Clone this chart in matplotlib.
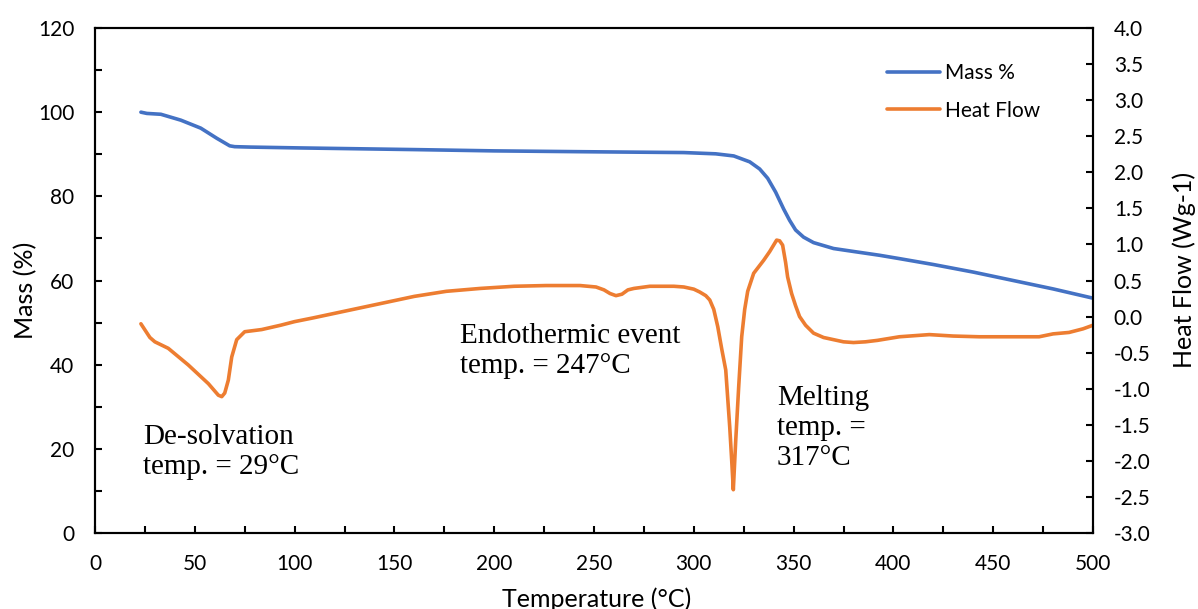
import matplotlib
matplotlib.use("Agg")
import matplotlib.pyplot as plt
from matplotlib.ticker import MultipleLocator, FormatStrFormatter

# Thermogravimetric (mass) curve: temperature (°C) vs mass (%)
mass_temp = [23, 26, 33, 43, 53, 61, 67.5, 70, 78, 103, 161, 200, 245, 295,
             311, 320, 328, 333, 337, 341, 345, 348, 351, 355, 360, 370, 380,
             393, 403, 420, 440, 460, 480, 500]
mass_pct = [100.0, 99.7, 99.5, 98.1, 96.2, 93.8, 92.0, 91.8, 91.7, 91.5, 91.1,
            90.8, 90.6, 90.4, 90.1, 89.6, 88.2, 86.5, 84.3, 81.0, 77.0, 74.3,
            72.0, 70.3, 69.0, 67.6, 66.9, 66.0, 65.2, 63.8, 62.0, 60.0, 58.0,
            55.8]

# DSC curve: temperature (°C) vs heat flow (W/g)
hf_temp = [23, 27.5, 30, 36.7, 46.7, 56.8, 61.8, 63.5, 65, 66.8, 68.5, 71, 75,
           83.5, 93, 100, 109, 126, 143, 160, 176, 193, 210, 226, 243, 251,
           255, 258, 261, 264, 267, 270, 278, 290, 295, 300, 303, 306, 308,
           310, 312, 314, 316, 318, 319, 319.8, 321, 322.5, 323, 324, 325.5,
           327, 330, 335, 338, 341.5, 343, 344.5, 346, 347, 349, 351, 353, 356,
           360, 365, 370, 375, 380, 386, 392, 403, 418, 430, 443, 460, 473,
           480, 488, 495, 500]
heat_flow = [-0.10, -0.29, -0.35, -0.44, -0.67, -0.93, -1.09, -1.11, -1.06,
             -0.88, -0.56, -0.32, -0.21, -0.18, -0.12, -0.07, -0.02, 0.08,
             0.18, 0.28, 0.35, 0.39, 0.42, 0.43, 0.43, 0.41, 0.37, 0.32, 0.29,
             0.31, 0.37, 0.39, 0.42, 0.42, 0.41, 0.38, 0.34, 0.29, 0.23, 0.10,
             -0.14, -0.45, -0.74, -1.53, -2.00, -2.40, -1.72, -0.97, -0.74,
             -0.28, 0.10, 0.35, 0.60, 0.78, 0.90, 1.06, 1.05, 0.99, 0.75, 0.55,
             0.32, 0.15, 0.00, -0.12, -0.23, -0.29, -0.32, -0.35, -0.36, -0.35,
             -0.33, -0.28, -0.25, -0.27, -0.28, -0.28, -0.28, -0.24, -0.22,
             -0.17, -0.12]

annotations = [
    (24, 25.9, "De-solvation\ntemp. = 29°C"),
    (183, 49.9, "Endothermic event\ntemp. = 247°C"),
    (341.7, 35.2, "Melting\ntemp. =\n317°C"),
]

plt.rcParams["font.family"] = ["Lato", "DejaVu Sans"]
plt.rcParams["axes.unicode_minus"] = False

BLUE = "#4472C4"
ORANGE = "#ED7D31"
TICK_FS = 15
TITLE_FS = 18
LEGEND_FS = 15

fig = plt.figure(figsize=(11.98, 6.09), dpi=100)
W, H = 1198, 609
left, right, top, bottom = 95, 1093, 28, 533
ax = fig.add_axes([left / W, 1 - bottom / H, (right - left) / W, (bottom - top) / H])
ax2 = ax.twinx()

l1, = ax.plot(mass_temp, mass_pct, color=BLUE, lw=2.6, solid_capstyle="round",
              solid_joinstyle="round", label="Mass %")
l2, = ax2.plot(hf_temp, heat_flow, color=ORANGE, lw=2.6, solid_capstyle="round",
               solid_joinstyle="round", label="Heat Flow")

ax.set_xlim(0, 500)
ax.set_ylim(0, 120)
ax2.set_ylim(-3, 4)

ax.xaxis.set_major_locator(MultipleLocator(50))
ax.xaxis.set_minor_locator(MultipleLocator(25))
ax.yaxis.set_major_locator(MultipleLocator(20))
ax.yaxis.set_minor_locator(MultipleLocator(10))
ax2.yaxis.set_major_locator(MultipleLocator(0.5))
ax2.yaxis.set_major_formatter(FormatStrFormatter("%.1f"))

for a in (ax, ax2):
    for s in a.spines.values():
        s.set_linewidth(1.5)
        s.set_color("black")
    a.tick_params(which="both", direction="in", length=5, width=1.5,
                  labelsize=TICK_FS, pad=15, colors="black")

ax.tick_params(axis="y", which="both", right=False)
ax.tick_params(axis="x", which="both", top=False)
ax2.tick_params(axis="y", which="both", left=False)

ax.set_xlabel("Temperature (°C)", fontsize=TITLE_FS)
ax.set_ylabel("Mass (%)", fontsize=TITLE_FS)
ax2.set_ylabel("Heat Flow (Wg-1)", fontsize=TITLE_FS)
ax.xaxis.set_label_coords(0.503, -0.107)
ax.yaxis.set_label_coords(-0.058, 0.481)
ax2.yaxis.set_label_coords(1.080, 0.521)

for x, y, txt in annotations:
    ax.text(x, y, txt, fontsize=21, family=["Liberation Serif", "DejaVu Serif"],
            ha="left", va="top", linespacing=1.2)

leg = ax2.legend(handles=[l1, l2], loc="upper left",
                 bbox_to_anchor=(887 / W, 1 - 63 / H), bbox_transform=fig.transFigure,
                 frameon=False, fontsize=LEGEND_FS, handlelength=2.55,
                 handletextpad=0.25, labelspacing=0.85, borderpad=0,
                 borderaxespad=0)

fig.savefig("out.png", dpi=100)
